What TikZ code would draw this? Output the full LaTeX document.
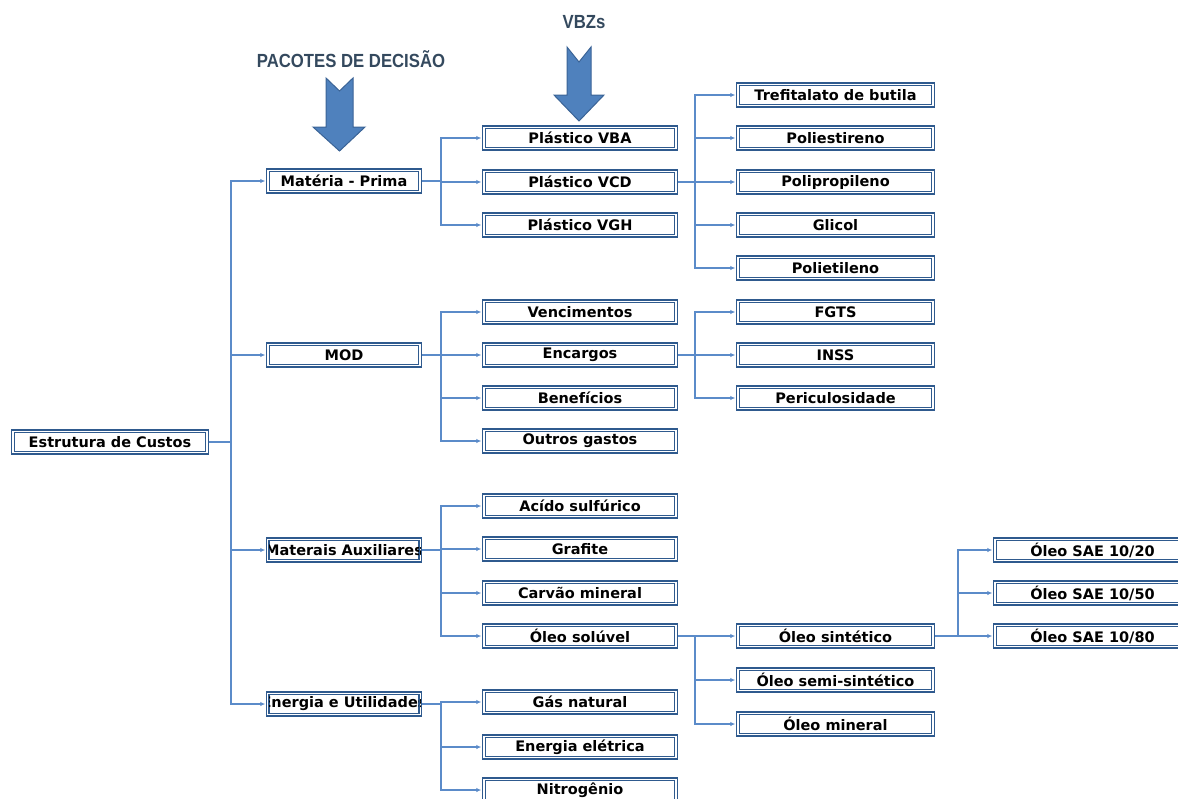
\documentclass[tikz,border=0pt]{standalone}
\usepackage{fontspec}
\newfontfamily\bxf{DejaVu Sans}
\newfontfamily\ttlf{Liberation Sans}
\usetikzlibrary{arrows.meta}
\definecolor{boxblue}{HTML}{2F5A8E}
\definecolor{linkblue}{HTML}{5B8BC9}
\definecolor{arrfill}{HTML}{4F81BD}
\definecolor{arrdraw}{HTML}{3A6396}
\definecolor{ttlcol}{HTML}{34495E}
\tikzset{
  bx/.style={draw=boxblue, line width=1.4pt, fill=white,
    minimum height=24pt, inner sep=0pt, font=\bxf\bfseries\fontsize{14.5}{15}\selectfont,
    path picture={\draw[boxblue, line width=1pt]
      ([shift={(2.9pt,-2.9pt)}]path picture bounding box.north west) rectangle
      ([shift={(-2.9pt,2.9pt)}]path picture bounding box.south east);}},
  w0/.style={bx, minimum width=196.6pt},
  w1/.style={bx, minimum width=154.6pt},
  w2/.style={bx, minimum width=194.6pt},
  w3/.style={bx, minimum width=197.6pt},
  conn/.style={draw=linkblue, line width=1.2pt, -{Latex[length=5pt,width=4.5pt]}, shorten >=0.7pt},
  bigarrow/.style={fill=arrfill, draw=arrdraw, line width=1pt, line join=miter},
  ttl/.style={text=ttlcol, font=\ttlf\bfseries\fontsize{19}{20}\selectfont, inner sep=0pt},
  txt/.style={font=\bxf\bfseries\fontsize{14.5}{15}\selectfont, inner sep=0pt}
}
\begin{document}
\begin{tikzpicture}[x=1pt,y=-1pt]
\useasboundingbox (0,0) rectangle (1178,798);
\clip (0,0) rectangle (1178,798);
% branch x coordinates
\coordinate (b0) at (231,0);
\coordinate (b1) at (441,0);
\coordinate (b2) at (695,0);
\coordinate (b3) at (958,0);
% titles and block arrows
\node[ttl] (tp) at (351,59) {\scalebox{0.88}[1]{PACOTES DE DECISÃO}};
\node[ttl] (tv) at (584,22) {\scalebox{0.88}[1]{VBZs}};
\draw[bigarrow] (326,78) -- (339.5,91) -- (353,78) -- (353,127) -- (365,127) -- (339.5,151) -- (313,127) -- (326,127) -- cycle;
\draw[bigarrow] (567,47) -- (579,62) -- (591,47) -- (591,95) -- (604,95) -- (579,121) -- (554,95) -- (567,95) -- cycle;
% level 0
\node[w0] (e0) at (110,442) {Estrutura de Custos};
% level 1
\node[w1] (m1) at (344,181) {Matéria - Prima};
\node[w1] (m2) at (344,355) {MOD};
\node[w1] (m3) at (344,550) {};
\node[w1] (m4) at (344,704) {};
\begin{scope}
\clip (268,540) rectangle (420,560);
\node[txt] (m3t) at (344,550) {Materais Auxiliares};
\end{scope}
\begin{scope}
\clip (268,694) rectangle (420,714);
\node[txt] (m4t) at (344,704) {Energia e Utilidades};
\end{scope}
\draw[boxblue, line width=1pt] ([shift={(2.9pt,-2.9pt)}]m3.north west) rectangle ([shift={(-2.9pt,2.9pt)}]m3.south east);
\draw[boxblue, line width=1pt] ([shift={(2.9pt,-2.9pt)}]m4.north west) rectangle ([shift={(-2.9pt,2.9pt)}]m4.south east);
% level 2
\node[w2] (p1) at (580,138) {Plástico VBA};
\node[w2] (p2) at (580,182) {Plástico VCD};
\node[w2] (p3) at (580,225) {Plástico VGH};
\node[w2] (v1) at (580,312) {Vencimentos};
\node[w2] (v2) at (580,355) {Encargos};
\node[w2] (v3) at (580,398) {Benefícios};
\node[w2] (v4) at (580,441) {Outros gastos};
\node[w2] (a1) at (580,506) {Acído sulfúrico};
\node[w2] (a2) at (580,549) {Grafite};
\node[w2] (a3) at (580,593) {Carvão mineral};
\node[w2] (a4) at (580,636) {Óleo solúvel};
\node[w2] (g1) at (580,702) {Gás natural};
\node[w2] (g2) at (580,747) {Energia elétrica};
\node[w2] (g3) at (580,790) {Nitrogênio};
% level 3
\node[w3] (t1) at (835.5,95) {Trefitalato de butila};
\node[w3] (t2) at (835.5,138) {Poliestireno};
\node[w3] (t3) at (835.5,182) {Polipropileno};
\node[w3] (t4) at (835.5,225) {Glicol};
\node[w3] (t5) at (835.5,268) {Polietileno};
\node[w3] (f1) at (835.5,312) {FGTS};
\node[w3] (f2) at (835.5,355) {INSS};
\node[w3] (f3) at (835.5,398) {Periculosidade};
\node[w3] (o1) at (835.5,636) {Óleo sintético};
\node[w3] (o2) at (835.5,680) {Óleo semi-sintético};
\node[w3] (o3) at (835.5,724) {Óleo mineral};
% level 4
\node[w3] (s1) at (1092.5,550) {Óleo SAE 10/20};
\node[w3] (s2) at (1092.5,593) {Óleo SAE 10/50};
\node[w3] (s3) at (1092.5,636) {Óleo SAE 10/80};
% connectors
\foreach \c in {m1,m2,m3,m4} \draw[conn] (e0.east) -- (b0 |- e0.east) |- (\c.west);
\foreach \c in {p1,p2,p3} \draw[conn] (m1.east) -- (b1 |- m1.east) |- (\c.west);
\foreach \c in {v1,v2,v3,v4} \draw[conn] (m2.east) -- (b1 |- m2.east) |- (\c.west);
\foreach \c in {a1,a2,a3,a4} \draw[conn] (m3.east) -- (b1 |- m3.east) |- (\c.west);
\foreach \c in {g1,g2,g3} \draw[conn] (m4.east) -- (b1 |- m4.east) |- (\c.west);
\foreach \c in {t1,t2,t3,t4,t5} \draw[conn] (p2.east) -- (b2 |- p2.east) |- (\c.west);
\foreach \c in {f1,f2,f3} \draw[conn] (v2.east) -- (b2 |- v2.east) |- (\c.west);
\foreach \c in {o1,o2,o3} \draw[conn] (a4.east) -- (b2 |- a4.east) |- (\c.west);
\foreach \c in {s1,s2,s3} \draw[conn] (o1.east) -- (b3 |- o1.east) |- (\c.west);
\end{tikzpicture}
\end{document}
